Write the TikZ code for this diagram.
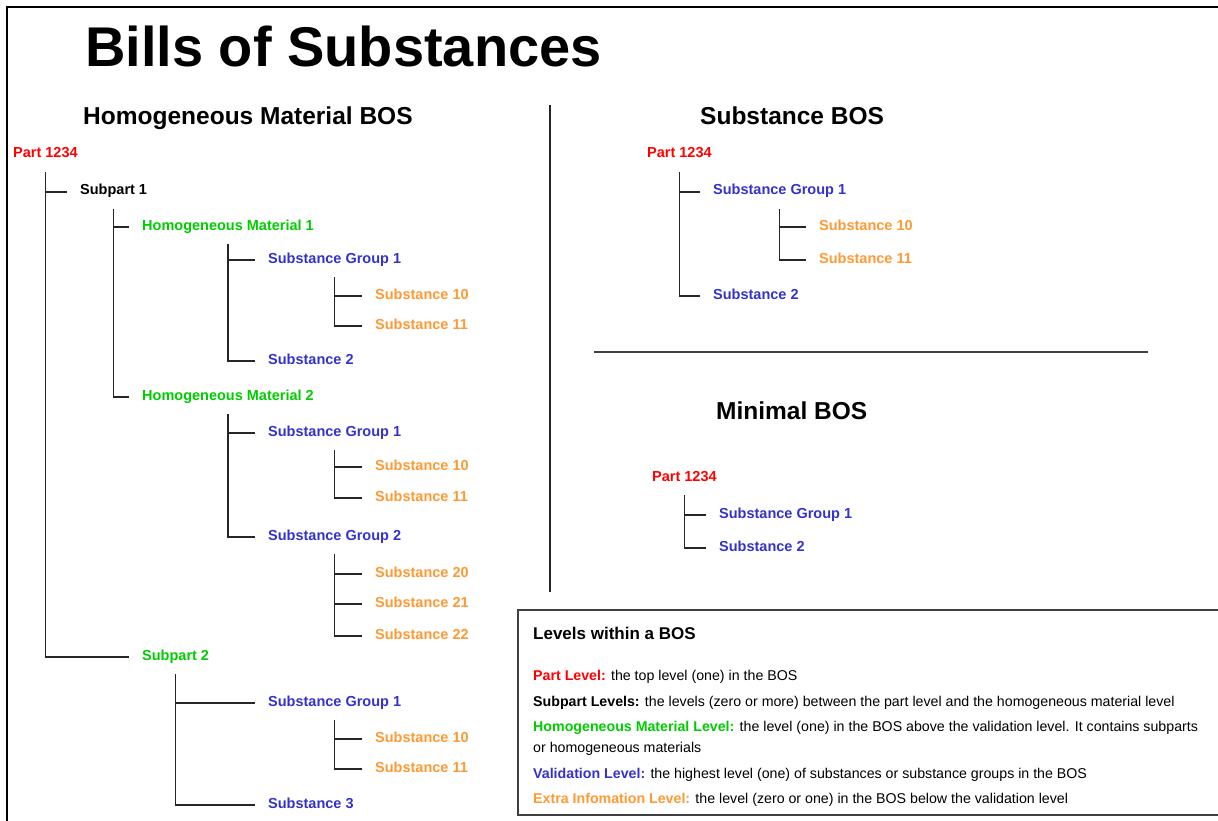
\documentclass[tikz,border=0pt]{standalone}
\usepackage{fontspec}
\setmainfont{Liberation Sans}
\usepackage{tikz}
\definecolor{partred}{RGB}{255,0,0}
\definecolor{homgreen}{RGB}{0,204,0}
\definecolor{valblue}{RGB}{51,51,204}
\definecolor{extraorange}{RGB}{255,153,51}

\begin{document}
\begin{tikzpicture}[x=1pt, y=-1pt,
  lvl/.style={anchor=west, inner sep=1pt, text height=10pt, text depth=4pt, font=\fontsize{14.5}{16}\selectfont\bfseries},
  part/.style={lvl, text=partred},
  subpart/.style={lvl, text=black},
  homo/.style={lvl, text=homgreen},
  valid/.style={lvl, text=valblue},
  extra/.style={lvl, text=extraorange},
  branch/.style={draw=black!85, line width=1.3pt, shorten <=9pt, shorten >=12pt},
  heading/.style={anchor=west, inner sep=0pt, font=\fontsize{24.5}{28}\selectfont\bfseries},
  legend/.style={anchor=west, inner sep=0pt, font=\fontsize{14.2}{16}\selectfont}]
\useasboundingbox (0,0) rectangle (1218,821);
% Frame and dividers
\draw[line width=2pt] (7,821) -- (7,7) -- (1218,7);
\draw[line width=1.4pt, black!85] (550,105) -- (550,592);
\draw[line width=1.4pt, black!75] (594,352) -- (1148,352);
% Title
\node[anchor=west, inner sep=0pt, font=\fontsize{56}{60}\selectfont\bfseries] (title) at (85,46) {Bills of Substances};
% Homogeneous Material BOS
\node[heading] (hhead) at (83,118) {Homogeneous Material BOS};
\node[part] (hp) at (12,155) {Part 1234};
\node[subpart] (hs1) at (79,192) {Subpart 1};
\node[homo] (hm1) at (141,227) {Homogeneous Material 1};
\node[valid] (hm1g1) at (267,260) {Substance Group 1};
\node[extra] (hm1g1s10) at (374,296) {Substance 10};
\node[extra] (hm1g1s11) at (374,326) {Substance 11};
\node[valid] (hm1s2) at (267,361) {Substance 2};
\node[homo] (hm2) at (141,397) {Homogeneous Material 2};
\node[valid] (hm2g1) at (267,433) {Substance Group 1};
\node[extra] (hm2g1s10) at (374,467) {Substance 10};
\node[extra] (hm2g1s11) at (374,498) {Substance 11};
\node[valid] (hm2g2) at (267,537) {Substance Group 2};
\node[extra] (hm2g2s20) at (374,574) {Substance 20};
\node[extra] (hm2g2s21) at (374,604) {Substance 21};
\node[extra] (hm2g2s22) at (374,636) {Substance 22};
\node[homo] (hs2) at (141,657) {Subpart 2};
\node[valid] (hs2g1) at (267,703) {Substance Group 1};
\node[extra] (hs2g1s10) at (374,739) {Substance 10};
\node[extra] (hs2g1s11) at (374,769) {Substance 11};
\node[valid] (hs2s3) at (267,805) {Substance 3};
\foreach \a/\b in {hp/hs1, hp/hs2, hs1/hm1, hs1/hm2, hm1/hm1g1, hm1/hm1s2,
  hm1g1/hm1g1s10, hm1g1/hm1g1s11, hm2/hm2g1, hm2/hm2g2, hm2g1/hm2g1s10, hm2g1/hm2g1s11,
  hm2g2/hm2g2s20, hm2g2/hm2g2s21, hm2g2/hm2g2s22, hs2/hs2g1, hs2/hs2s3,
  hs2g1/hs2g1s10, hs2g1/hs2g1s11}
  \draw[branch] (\a) |- (\b);
% Substance BOS
\node[heading] (shead) at (700,116) {Substance BOS};
\node[part] (sp) at (646,155) {Part 1234};
\node[valid] (sg1) at (712,192) {Substance Group 1};
\node[extra] (sg1s10) at (818,227) {Substance 10};
\node[extra] (sg1s11) at (818,260) {Substance 11};
\node[valid] (ss2) at (712,296) {Substance 2};
\foreach \a/\b in {sp/sg1, sp/ss2, sg1/sg1s10, sg1/sg1s11}
  \draw[branch] (\a) |- (\b);
% Minimal BOS
\node[heading] (mhead) at (716,411) {Minimal BOS};
\node[part] (mp) at (651,478) {Part 1234};
\node[valid] (mg1) at (718,515) {Substance Group 1};
\node[valid] (ms2) at (718,548) {Substance 2};
\foreach \a/\b in {mp/mg1, mp/ms2}
  \draw[branch] (\a) |- (\b);
% Legend
\draw[line width=1.5pt, black!75] (1230,610) -- (518,610) -- (518,815) -- (1230,815);
\node[anchor=west, inner sep=0pt, font=\fontsize{17}{20}\selectfont\bfseries] (lhead) at (533,633) {Levels within a BOS};
\node[legend] (lpart) at (533,677) {{\color{partred}\bfseries Part Level:} the top level (one) in the BOS};
\node[legend] (lsub) at (533,703) {{\bfseries Subpart Levels:} the levels (zero or more) between the part level and the homogeneous material level};
\node[legend] (lhom) at (533,728) {{\color{homgreen}\bfseries Homogeneous Material Level:} the level (one) in the BOS above the validation level. It contains subparts};
\node[legend] (lhom2) at (533,749) {or homogeneous materials};
\node[legend] (lval) at (533,775) {{\color{valblue}\bfseries Validation Level:} the highest level (one) of substances or substance groups in the BOS};
\node[legend] (lext) at (533,800) {{\color{extraorange}\bfseries Extra Infomation Level:} the level (zero or one) in the BOS below the validation level};
\end{tikzpicture}
\end{document}
